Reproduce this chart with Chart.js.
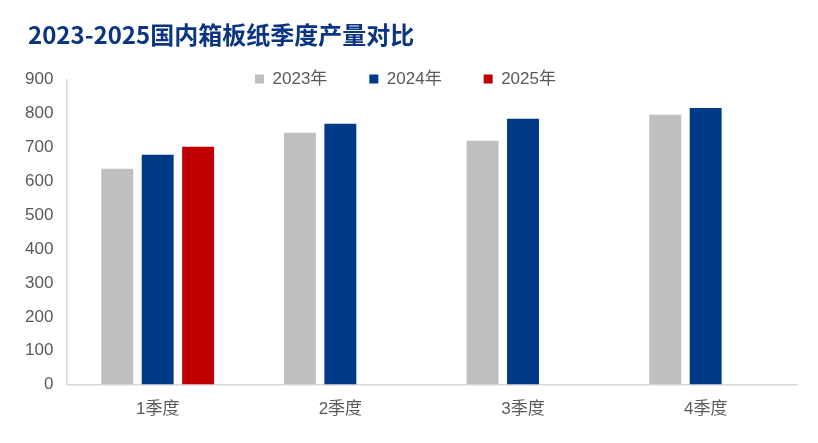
<!DOCTYPE html>
<html>
<head>
<meta charset="utf-8">
<script src="https://cdn.jsdelivr.net/npm/chart.js@4"></script>
<style>
  html, body { margin:0; padding:0; background:#fff; }
  #wrap { width:818px; height:443px; }
</style>
</head>
<body>
<div id="wrap"><canvas id="chart"></canvas></div>
<script>
// data
const categories = ["1季度", "2季度", "3季度", "4季度"];
const seriesNames = ["2023年", "2024年", "2025年"];
const values2023 = [637, 744, 720, 797];
const values2024 = [679, 770, 785, 817];
const values2025 = [702, null, null, null];
const yTicks = [0, 100, 200, 300, 400, 500, 600, 700, 800, 900];

const colors = ["#bfbfbf", "#003a86", "#c00000"];
const FONT = "'Liberation Sans', Arial, 'Noto Sans CJK SC', sans-serif";
const TEXT = "#595959";

// legend reserves almost no height; move it up level with the 900 tick,
// and nudge the title right of the layout padding
const shiftBoxes = {
  id: "shiftBoxes",
  afterLayout(chart){
    const l = chart.legend;
    const pad = l.options.labels.padding;
    const dy = (l.top + pad + 8.5) - 79;
    l.top -= dy;
    l.bottom = l.top + pad + 30;
    l.height = l.bottom - l.top;
    l.left += 1; l.right += 1;
    const t = chart.titleBlock;
    t.left += 16; t.right += 16;
  }
};

new Chart(document.getElementById("chart"), {
  type: "bar",
  data: {
    labels: categories,
    datasets: [
      { label: seriesNames[0], data: values2023, backgroundColor: colors[0] },
      { label: seriesNames[1], data: values2024, backgroundColor: colors[1] },
      { label: seriesNames[2], data: values2025, backgroundColor: colors[2] }
    ]
  },
  options: {
    responsive: true,
    maintainAspectRatio: false,
    animation: false,
    datasets: { bar: { categoryPercentage: 0.664, barPercentage: 0.79 } },
    layout: { padding: { left: 12, right: 21, top: 0, bottom: 8 } },
    plugins: {
      title: {
        display: true,
        text: "2023-2025国内箱板纸季度产量对比",
        align: "start",
        color: "#0b3582",
        font: { family: "'Liberation Sans Narrow', 'Noto Sans CJK SC', sans-serif", size: 24, weight: "bold" },
        padding: { top: 20, bottom: 30 }
      },
      legend: {
        position: "top",
        align: "center",
        maxHeight: 1,
        labels: {
          boxWidth: 9, boxHeight: 9,
          padding: 42,
          color: TEXT,
          font: { family: FONT, size: 17 }
        }
      },
      tooltip: { enabled: false }
    },
    scales: {
      x: {
        grid: { display: false, drawTicks: false },
        border: { display: true, color: "#d9d9d9", width: 1.5 },
        ticks: { color: TEXT, font: { family: FONT, size: 17 }, padding: 15 }
      },
      y: {
        min: 0, max: 900,
        afterBuildTicks(axis){ axis.ticks = yTicks.map(v => ({ value: v })); },
        grid: { display: false, drawTicks: false },
        border: { display: true, color: "#d9d9d9", width: 1.5 },
        ticks: { color: TEXT, font: { family: FONT, size: 17 }, padding: 13 }
      }
    }
  },
  plugins: [shiftBoxes]
});
</script>
</body>
</html>
